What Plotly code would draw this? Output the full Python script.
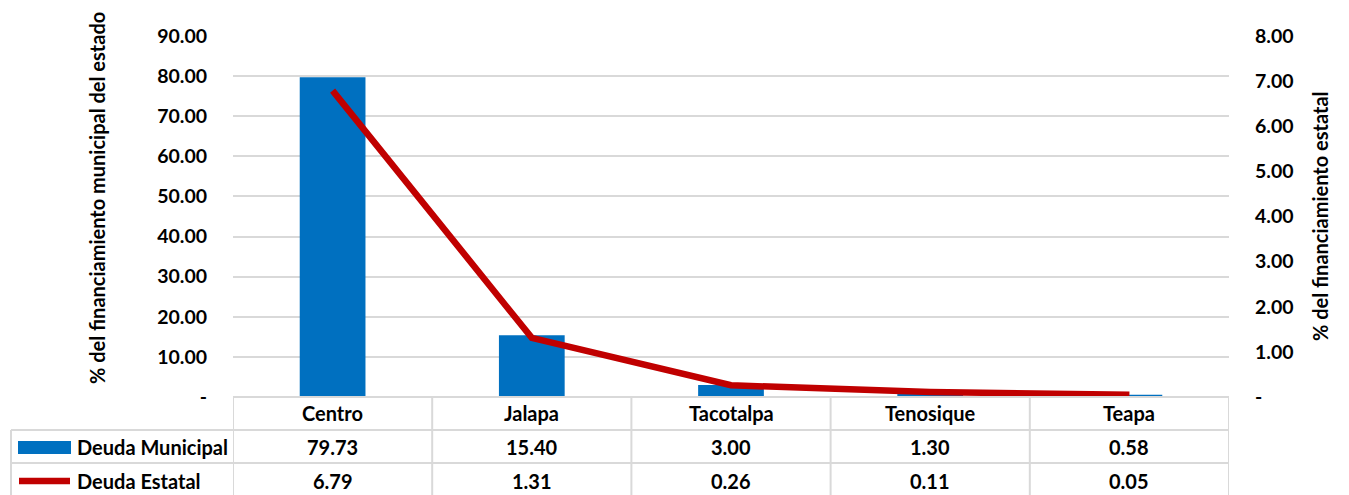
import plotly.graph_objects as go

# Municipal vs. state debt shares by municipality
municipios = ["Centro", "Jalapa", "Tacotalpa", "Tenosique", "Teapa"]
deuda_municipal = [79.73, 15.40, 3.00, 1.30, 0.58]
deuda_estatal = [6.79, 1.31, 0.26, 0.11, 0.05]

left_ticks = [0, 10, 20, 30, 40, 50, 60, 70, 80, 90]
right_ticks = [0, 1, 2, 3, 4, 5, 6, 7, 8]

FONT = "Lato"
BLUE = "#0070C0"
RED = "#C00000"
GRID = "#D9D9D9"
TXT = 20
TICK = 19.5

W, H = 1349, 495
L, R, T, B = 233, 120, 36, 98
plot_w = W - L - R
plot_h = H - T - B


def px_to_paper_x(px):
    return (px - L) / plot_w


def px_to_paper_y(py):
    return (H - B - py) / plot_h


def fmt(v):
    return "-" if v == 0 else f"{v:.2f}"


fig = go.Figure()

fig.add_trace(go.Bar(
    x=municipios, y=deuda_municipal, name="Deuda Municipal",
    marker=dict(color=BLUE, line=dict(width=0)), width=0.33,
    yaxis="y", showlegend=False,
))
fig.add_trace(go.Scatter(
    x=municipios, y=deuda_estatal, name="Deuda Estatal",
    mode="lines", line=dict(color=RED, width=6.5),
    yaxis="y2", showlegend=False,
))

tickfont = dict(family=FONT, size=TICK, color="#000000", weight="bold")

fig.update_layout(
    width=W, height=H,
    margin=dict(l=L, r=R, t=T, b=B, pad=0),
    paper_bgcolor="white", plot_bgcolor="white",
    font=dict(family=FONT, size=TXT, color="#000000"),
    xaxis=dict(
        type="category", range=[-0.5, 4.5], showticklabels=False,
        showgrid=False, zeroline=False, showline=False, ticks="",
    ),
    yaxis=dict(
        range=[0, 90], tickvals=left_ticks, ticktext=[fmt(v) for v in left_ticks],
        showgrid=True, gridcolor=GRID, gridwidth=1.5, zeroline=False,
        showline=False, ticks="", ticklabelstandoff=25, tickfont=tickfont,
    ),
    yaxis2=dict(
        range=[0, 8], tickvals=right_ticks, ticktext=[fmt(v) for v in right_ticks],
        overlaying="y", side="right", showgrid=False, zeroline=False,
        showline=False, ticks="", ticklabelstandoff=25, tickfont=tickfont,
    ),
)


def label(text, xref, x, y, xanchor="center", angle=0):
    fig.add_annotation(
        text=f"<b>{text}</b>", xref=xref, yref="paper", x=x, y=y,
        xanchor=xanchor, yanchor="middle", textangle=angle,
        showarrow=False, font=dict(family=FONT, size=TXT, color="#000000"),
    )


# Axis titles
label("% del financiamiento municipal del estado", "paper",
      px_to_paper_x(97), px_to_paper_y(198), angle=-90)
label("% del financiamiento estatal", "paper",
      px_to_paper_x(1320), px_to_paper_y(216), angle=-90)

# Data table under the plot
row_lines = [397, 430, 463]
left_edge = px_to_paper_x(11)
line_style = dict(color=GRID, width=2)

fig.add_shape(type="line", xref="paper", yref="paper",
              x0=0, x1=1, y0=px_to_paper_y(row_lines[0]), y1=px_to_paper_y(row_lines[0]),
              line=line_style)
for py in row_lines[1:]:
    fig.add_shape(type="line", xref="paper", yref="paper",
                  x0=left_edge, x1=1, y0=px_to_paper_y(py), y1=px_to_paper_y(py),
                  line=line_style)
for i in range(len(municipios) + 1):
    fig.add_shape(type="line", xref="x", yref="paper",
                  x0=i - 0.5, x1=i - 0.5,
                  y0=px_to_paper_y(row_lines[0]), y1=px_to_paper_y(H + 5),
                  line=line_style)
fig.add_shape(type="line", xref="paper", yref="paper",
              x0=left_edge, x1=left_edge,
              y0=px_to_paper_y(row_lines[1]), y1=px_to_paper_y(H + 5),
              line=line_style)

row_centers = [413.5, 447, 481]
for m, vm, ve in zip(municipios, deuda_municipal, deuda_estatal):
    for yc, txt in zip(row_centers, [m, f"{vm:.2f}", f"{ve:.2f}"]):
        label(txt, "x", m, px_to_paper_y(yc))

# Legend keys inside the table's first column
fig.add_shape(type="rect", xref="paper", yref="paper",
              x0=px_to_paper_x(18), x1=px_to_paper_x(71),
              y0=px_to_paper_y(454), y1=px_to_paper_y(441),
              fillcolor=BLUE, line=dict(width=0))
fig.add_shape(type="line", xref="paper", yref="paper",
              x0=px_to_paper_x(19), x1=px_to_paper_x(70),
              y0=px_to_paper_y(481), y1=px_to_paper_y(481),
              line=dict(color=RED, width=6.5))
for yc, name in zip(row_centers[1:], ["Deuda Municipal", "Deuda Estatal"]):
    label(name, "paper", px_to_paper_x(75), px_to_paper_y(yc), xanchor="left")

fig.write_html("out.html")
